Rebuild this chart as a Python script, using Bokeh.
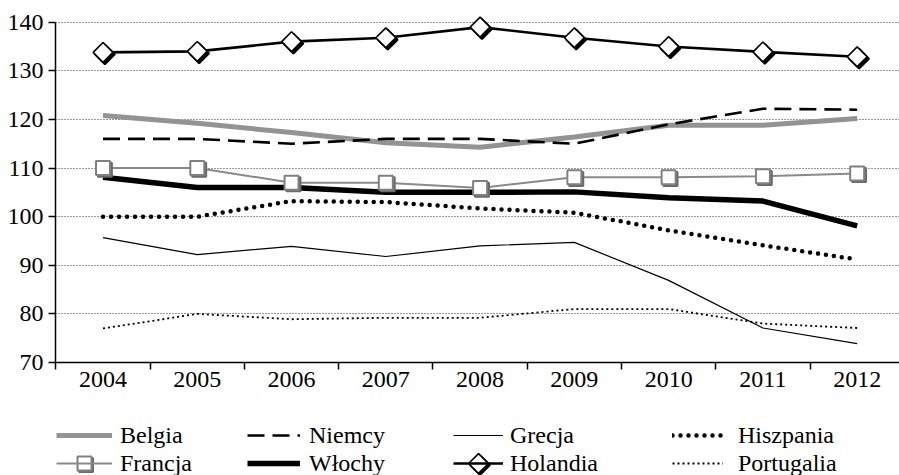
import math
from bokeh.plotting import figure
from bokeh.layouts import column
from bokeh.models import FixedTicker, Legend, LegendItem, ColumnDataSource, Range1d
from bokeh.transform import dodge
from bokeh.embed import file_html
from bokeh.resources import INLINE

years = ["2004", "2005", "2006", "2007", "2008", "2009", "2010", "2011", "2012"]
belgia = [120.8, 119.2, 117.3, 115.2, 114.3, 116.4, 118.8, 118.8, 120.2]
niemcy = [116, 116, 115, 116, 116, 115, 119, 122.2, 122]
grecja = [95.7, 92.2, 93.9, 91.8, 94, 94.7, 86.9, 77.1, 73.9]
hiszpania = [100, 100, 103.2, 103, 101.7, 100.8, 97.2, 94.1, 91.2]
francja = [110, 110, 107, 107, 105.9, 108.1, 108.1, 108.3, 108.9]
wlochy = [108.1, 106, 106, 105, 105, 105.1, 103.9, 103.2, 98.1]
holandia = [133.8, 134, 136, 136.8, 139, 136.8, 135, 133.9, 132.9]
portugalia = [77, 80, 78.9, 79.2, 79.2, 81, 81, 78, 77.1]
y_ticks = [70, 80, 90, 100, 110, 120, 130, 140]

xs = list(range(len(years)))
FONT = "Liberation Serif"

src = ColumnDataSource(dict(x=xs, belgia=belgia, niemcy=niemcy, grecja=grecja,
                            hiszpania=hiszpania, francja=francja, wlochy=wlochy,
                            holandia=holandia, portugalia=portugalia))

SQ = dict(marker="square", size=14, fill_color="white", line_color="#808080", line_width=2)
SQ_SH = dict(marker="square", size=14, fill_color="#6a6a6a", line_color="#6a6a6a", line_width=2)
DM = dict(marker="square", angle=math.pi / 4, size=14, fill_color="white",
          line_color="black", line_width=1.6)
DM_SH = dict(marker="square", angle=math.pi / 4, size=14, fill_color="black",
             line_color="black", line_width=2)


def draw_lines(fig):
    r = {}
    r["Belgia"] = fig.line("x", "belgia", source=src, line_color="#939393", line_width=5)
    r["Niemcy"] = fig.line("x", "niemcy", source=src, line_color="black", line_width=2.6,
                           line_dash="17 8")
    r["Grecja"] = fig.line("x", "grecja", source=src, line_color="black", line_width=1.2)
    r["Hiszpania"] = fig.line("x", "hiszpania", source=src, line_color="black", line_width=4.5,
                              line_dash="0 8", line_cap="round")
    r["Portugalia"] = fig.line("x", "portugalia", source=src, line_color="black",
                               line_width=1.8, line_dash="2 3")
    r["Francja"] = fig.line("x", "francja", source=src, line_color="#8a8a8a", line_width=2)
    r["Włochy"] = fig.line("x", "wlochy", source=src, line_color="black", line_width=5.5)
    r["Holandia"] = fig.line("x", "holandia", source=src, line_color="black", line_width=2.6)
    return r


# ---------------- main chart ----------------
p = figure(width=899, height=405,
           x_range=Range1d(-0.504, 8.449), y_range=Range1d(70, 142.0),
           output_backend="svg", toolbar_location=None,
           min_border_left=55, min_border_right=0, min_border_top=12, min_border_bottom=43)
p.outline_line_color = None

xa = p.xaxis[0]
xa.ticker = FixedTicker(ticks=xs, minor_ticks=[i - 0.5 for i in range(len(years) + 1)])
xa.major_label_overrides = {i: y for i, y in zip(xs, years)}
xa.major_tick_out = 0
xa.major_tick_in = 0
xa.minor_tick_out = 7
xa.minor_tick_in = 0
xa.minor_tick_line_color = "black"
xa.minor_tick_line_width = 1.5
xa.axis_line_color = "black"
xa.axis_line_width = 1.5
xa.major_label_standoff = 2
xa.major_label_text_font = FONT
xa.major_label_text_font_size = "24px"
xa.major_label_text_color = "black"

ya = p.yaxis[0]
ya.ticker = FixedTicker(ticks=y_ticks)
ya.bounds = (y_ticks[0], y_ticks[-1])
ya.major_tick_out = 7
ya.major_tick_in = 0
ya.minor_tick_out = 0
ya.minor_tick_in = 0
ya.major_tick_line_color = "black"
ya.major_tick_line_width = 1.5
ya.axis_line_color = "black"
ya.axis_line_width = 1.5
ya.major_label_standoff = 5
ya.major_label_text_font = FONT
ya.major_label_text_font_size = "24px"
ya.major_label_text_color = "black"

p.xgrid.visible = False
p.ygrid.grid_line_color = "#333333"
p.ygrid.grid_line_dash = "1 2"
p.ygrid.grid_line_width = 1

draw_lines(p)
p.scatter(x=dodge("x", 0.02), y=dodge("francja", -0.35), source=src, **SQ_SH)
p.scatter("x", "francja", source=src, **SQ)
p.scatter(x=dodge("x", 0.02), y=dodge("holandia", -0.4), source=src, **DM_SH)
p.scatter("x", "holandia", source=src, **DM)

# ---------------- legend strip (pixel-like ranges, series kept out of view) ----------------
LEFT = 55
leg = figure(width=899, height=70, x_range=Range1d(LEFT, 899), y_range=Range1d(0, 70),
             output_backend="svg", toolbar_location=None,
             min_border_left=LEFT, min_border_right=0, min_border_top=0, min_border_bottom=0)
leg.axis.visible = False
leg.grid.visible = False
leg.outline_line_color = None
lr = draw_lines(leg)

ROW_H = 28
LEG_VY = -2
cols = [
    (["Belgia", "Francja"], 56, 56, 8),
    (["Niemcy", "Włochy"], 247, 53, 9),
    (["Grecja", "Holandia"], 453, 50, 7),
    (["Hiszpania", "Portugalia"], 672, 51, 15),
]
for names, cx, gw, so in cols:
    lg = Legend(items=[LegendItem(label=n, renderers=[lr[n]]) for n in names],
                location=(cx - LEFT, LEG_VY), orientation="vertical",
                glyph_width=gw, glyph_height=ROW_H, spacing=0, label_standoff=so,
                label_height=ROW_H, padding=0, margin=0,
                background_fill_alpha=0, border_line_color=None,
                label_text_font=FONT, label_text_font_size="24px", label_text_color="black")
    leg.add_layout(lg, "center")

# legend symbols for the marker series (second row of columns 1 and 3)
row2_y = LEG_VY + ROW_H / 2
sq_src = ColumnDataSource(dict(x=[cols[0][1] + cols[0][2] / 2], y=[row2_y]))
dm_src = ColumnDataSource(dict(x=[cols[2][1] + cols[2][2] / 2], y=[row2_y]))
leg.scatter(x=dodge("x", 1.5), y=dodge("y", -1.5), source=sq_src, **SQ_SH)
leg.scatter("x", "y", source=sq_src, **SQ)
leg.scatter(x=dodge("x", 1.5), y=dodge("y", -1.5), source=dm_src, **DM_SH)
leg.scatter("x", "y", source=dm_src, **DM)

layout = column(p, leg, spacing=0)
open("out.html", "w").write(file_html(layout, INLINE))
